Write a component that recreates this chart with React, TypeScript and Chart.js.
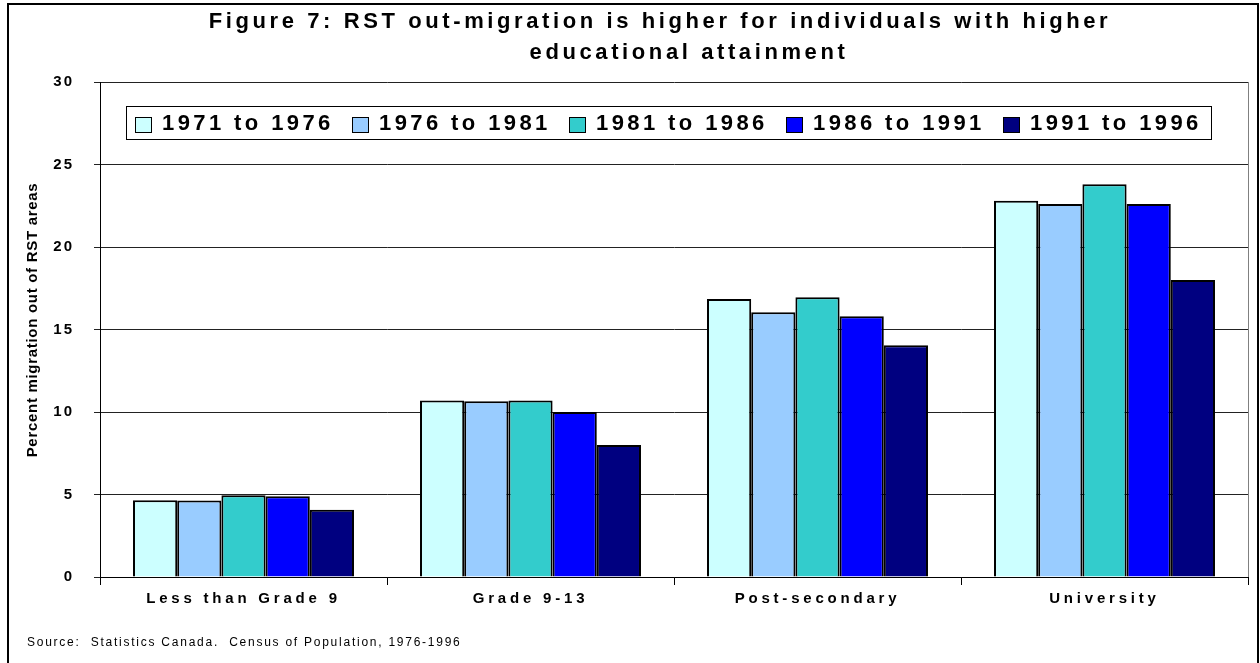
import React, { useEffect, useRef } from "react";
import { Chart, registerables } from "chart.js";

Chart.register(...registerables);

const categories = ["Less than Grade 9", "Grade 9-13", "Post-secondary", "University"];
const seriesLabels = ["1971 to 1976", "1976 to 1981", "1981 to 1986", "1986 to 1991", "1991 to 1996"];
const values1971 = [4.65, 10.7, 16.85, 22.8];
const values1976 = [4.63, 10.65, 16.05, 22.6];
const values1981 = [4.95, 10.7, 16.95, 23.8];
const values1986 = [4.9, 10.0, 15.8, 22.6];
const values1991 = [4.08, 8.0, 14.05, 18.0];
const seriesColors = ["#CCFFFF", "#99CCFF", "#33CCCC", "#0000FF", "#000080"];
const titleLines = [
  "Figure 7: RST out-migration is higher for individuals with higher",
  "educational attainment",
];
const yAxisTitle = "Percent migration out of RST areas";
const sourceNote = "Source:  Statistics Canada.  Census of Population, 1976-1996";
const yMin = 0;
const yMax = 30;
const yStep = 5;

const FONT = "'Liberation Sans', Arial, Helvetica, sans-serif";

function wrapLabels(chart: any, id: string, spacing: string) {
  const sc = chart.scales[id];
  if (!sc || sc._lsWrapped) return;
  const orig = sc.drawLabels.bind(sc);
  sc.drawLabels = (area: any) => {
    const prev = chart.ctx.letterSpacing;
    chart.ctx.letterSpacing = spacing;
    orig(area);
    chart.ctx.letterSpacing = prev;
  };
  sc._lsWrapped = true;
}

const decorPlugin = {
  id: "decor",
  afterLayout(chart: any) {
    wrapLabels(chart, "x", "3.8px");
    wrapLabels(chart, "y", "2px");
  },
  beforeDraw(chart: any) {
    const ctx = chart.ctx;
    ctx.save();
    ctx.fillStyle = "#fff";
    ctx.fillRect(0, 0, chart.width, chart.height);
    ctx.restore();
  },
  afterDraw(chart: any) {
    const ctx = chart.ctx;
    const ca = chart.chartArea;
    ctx.save();
    // plot right border
    ctx.strokeStyle = "#808080";
    ctx.lineWidth = 1;
    ctx.beginPath();
    ctx.moveTo(ca.right + 0.5, ca.top);
    ctx.lineTo(ca.right + 0.5, ca.bottom);
    ctx.stroke();

    // title
    ctx.fillStyle = "#000";
    ctx.textBaseline = "middle";
    ctx.textAlign = "center";
    ctx.font = `bold 22px ${FONT}`;
    ctx.letterSpacing = "3.6px";
    const titleCenters = [660, 689];
    const titleYs = [22, 53];
    titleLines.forEach((t, i) => ctx.fillText(t, titleCenters[i], titleYs[i]));

    // legend
    ctx.letterSpacing = "0px";
    ctx.fillStyle = "#fff";
    ctx.fillRect(126, 106, 1085, 33);
    ctx.strokeStyle = "#000";
    ctx.lineWidth = 1;
    ctx.strokeRect(126.5, 106.5, 1085, 33);
    ctx.font = `bold 22px ${FONT}`;
    ctx.letterSpacing = "3.4px";
    ctx.textAlign = "left";
    chart.data.datasets.forEach((ds: any, i: number) => {
      const sx = 135 + i * 217;
      ctx.fillStyle = ds.backgroundColor;
      ctx.fillRect(sx, 117, 16, 15);
      ctx.strokeStyle = "#000";
      ctx.lineWidth = 1;
      ctx.strokeRect(sx + 0.5, 117.5, 16, 15);
      ctx.fillStyle = "#000";
      ctx.fillText(ds.label, sx + 27, 124);
    });

    // y axis title
    ctx.save();
    ctx.translate(33, 320);
    ctx.rotate(-Math.PI / 2);
    ctx.textAlign = "center";
    ctx.textBaseline = "middle";
    ctx.font = `bold 15px ${FONT}`;
    ctx.letterSpacing = "0.7px";
    ctx.fillStyle = "#000";
    ctx.fillText(yAxisTitle, 0, 0);
    ctx.restore();

    // source
    ctx.font = `12px ${FONT}`;
    ctx.letterSpacing = "1.75px";
    ctx.textAlign = "left";
    ctx.textBaseline = "middle";
    ctx.fillStyle = "#000";
    ctx.fillText(sourceNote, 27, 643);

    // outer frame
    ctx.letterSpacing = "0px";
    ctx.strokeStyle = "#000";
    ctx.lineWidth = 2;
    ctx.strokeRect(8, 4, 1250, 700);
    ctx.restore();
  },
};

export default function App() {
  const canvasRef = useRef<HTMLCanvasElement | null>(null);

  useEffect(() => {
    const canvas = canvasRef.current;
    if (!canvas) return;
    const allSeries = [values1971, values1976, values1981, values1986, values1991];
    const chart = new Chart(canvas, {
      type: "bar",
      data: {
        labels: categories,
        datasets: allSeries.map((vals, i) => ({
          label: seriesLabels[i],
          data: vals,
          backgroundColor: seriesColors[i],
          borderColor: "#000",
          borderWidth: 2,
          barPercentage: 1,
          categoryPercentage: 0.77,
        })),
      },
      options: {
        responsive: false,
        animation: false,
        layout: { padding: { top: 82, right: 12, left: 0, bottom: 0 } },
        plugins: {
          legend: { display: false },
          title: { display: false },
          tooltip: { enabled: false },
        },
        scales: {
          x: {
            grid: {
              display: true,
              drawOnChartArea: false,
              drawTicks: true,
              tickLength: 8,
              color: "#000",
              offset: true,
            },
            border: { display: true, color: "#000", width: 1 },
            ticks: {
              color: "#000",
              font: { family: FONT, size: 15, weight: "bold" },
              padding: 5,
              maxRotation: 0,
              autoSkip: false,
            },
            afterFit: (s: any) => {
              s.height = 86;
            },
          },
          y: {
            min: yMin,
            max: yMax,
            ticks: {
              stepSize: yStep,
              color: "#000",
              font: { family: FONT, size: 15, weight: "bold" },
              padding: 20,
            },
            grid: { color: "#222", lineWidth: 1, tickLength: 6 },
            border: { display: true, color: "#000", width: 1 },
            afterFit: (s: any) => {
              s.width = 100;
            },
          },
        },
      },
      plugins: [decorPlugin],
    });
    return () => chart.destroy();
  }, []);

  return (
    <div style={{ position: "fixed", left: 0, top: 0, width: 1260, height: 663, background: "#fff" }}>
      <canvas ref={canvasRef} width={1260} height={663} style={{ display: "block" }} />
    </div>
  );
}
